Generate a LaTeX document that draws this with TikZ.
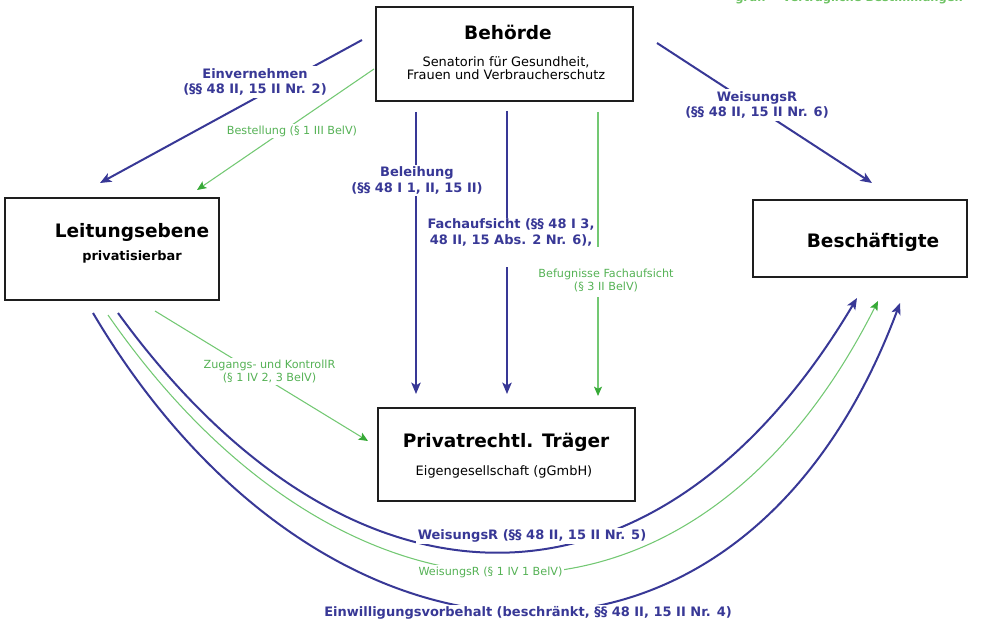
\documentclass[tikz,border=0pt]{standalone}
\usepackage{fontspec}
\setmainfont{DejaVu Sans}
\usetikzlibrary{arrows.meta,calc}
\definecolor{lawblue}{RGB}{56,56,150}
\definecolor{contractgreen}{RGB}{115,200,115}
\definecolor{contractgreentext}{RGB}{85,178,85}
\definecolor{legendgreen}{RGB}{110,195,100}
\definecolor{tipgreen}{RGB}{55,170,55}
\definecolor{frame}{RGB}{30,30,30}

\begin{document}
\begin{tikzpicture}[x=0.75pt,y=-0.75pt,
  box/.style={draw=frame,line width=1.5pt,fill=white,inner sep=0pt},
  titletext/.style={font=\fontsize{13.9pt}{16pt}\selectfont\bfseries,inner sep=0pt},
  subtext/.style={font=\fontsize{9.7pt}{9.75pt}\selectfont,align=center,inner sep=0pt},
  subbold/.style={font=\fontsize{9.7pt}{9.75pt}\selectfont\bfseries,inner sep=0pt},
  bluelbl/.style={font=\fontsize{9.75pt}{11.5pt}\selectfont\bfseries,text=lawblue,align=center,fill=white,inner sep=1.5pt},
  greenlbl/.style={font=\fontsize{8.4pt}{9.75pt}\selectfont,text=contractgreentext,align=center,fill=white,inner sep=1.5pt},
  blueline/.style={draw=lawblue,line width=1.5pt},
  bluearrow/.style={blueline,-{Stealth[length=8.5pt,width=7pt,inset=2pt]}},
  greenline/.style={draw=contractgreen,line width=0.8pt},
  greenarrow/.style={greenline,-{Stealth[length=7pt,width=6pt,inset=1.5pt,color=tipgreen]}},
]
\useasboundingbox (0,0) rectangle (989,624);
\clip (0,0) rectangle (989,624);

% legend line at the top edge
\node[anchor=base,font=\fontsize{8.6pt}{10pt}\selectfont\bfseries,text=legendgreen,inner sep=0pt]
  (legend) at (849,1.5) {grün = vertragliche Bestimmungen};

% boxes
\node[box,minimum width={257*0.75pt},minimum height={94*0.75pt}] (behoerde) at (504.5,54) {};
\node[box,minimum width={214*0.75pt},minimum height={102*0.75pt}] (leitung) at (112,249) {};
\node[box,minimum width={214*0.75pt},minimum height={77*0.75pt}] (besch) at (860,238.5) {};
\node[box,minimum width={257*0.75pt},minimum height={93*0.75pt}] (traeger) at (506.5,454.5) {};

\node[titletext] (behtitle) at (508,32) {Behörde};
\node[subtext] (behsub) at (506,68) {Senatorin für Gesundheit,\\Frauen und Verbraucherschutz};
\node[titletext] (leittitle) at (132,232) {Leitungsebene};
\node[subbold] (leitsub) at (132,257) {privatisierbar};
\node[titletext] (beschtitle) at (873,242) {Beschäftigte};
\node[titletext] (traegertitle) at (506,442) {Privatrechtl. Träger};
\node[subtext] (traegersub) at (504,472) {Eigengesellschaft (gGmbH)};

% end points of the connectors
\coordinate (ein s) at (362,40);   \coordinate (ein e) at (100,183);
\coordinate (bes s) at (374,69);   \coordinate (bes e) at (197,190);
\coordinate (bel s) at (416,112);  \coordinate (bel e) at (416,394);
\coordinate (fa s) at (507,111);   \coordinate (fa a) at (507,218);
\coordinate (fa b) at (507,267);   \coordinate (fa e) at (507,394);
\coordinate (bf s) at (598,112);   \coordinate (bf a) at (598,247);
\coordinate (bf b) at (598,297);   \coordinate (bf e) at (598,396);
\coordinate (w6 s) at (657,43);    \coordinate (w6 e) at (872,183);
\coordinate (zk s) at (155,311);   \coordinate (zk e) at (368,441);
\coordinate (w5 s) at (118,313);   \coordinate (w5 e) at (857,298);
\coordinate (wg s) at (108,315);   \coordinate (wg e) at (878,301);
\coordinate (ew s) at (93,313);    \coordinate (ew e) at (900,303);

% straight connectors
\draw[bluearrow] (ein s) -- (ein e);
\draw[greenarrow] (bes s) -- (bes e);
\draw[bluearrow] (bel s) -- (bel e);
\draw[blueline] (fa s) -- (fa a);
\draw[bluearrow] (fa b) -- (fa e);
\draw[greenline] (bf s) -- (bf a);
\draw[greenarrow] (bf b) -- (bf e);
\draw[bluearrow] (w6 s) -- (w6 e);
\draw[greenarrow] (zk s) -- (zk e);

% curved connectors from the management level to the staff
\draw[bluearrow] (w5 s) .. controls (350,632) and (656,636) .. (w5 e);
\draw[greenarrow] (wg s) .. controls (343,654) and (693,668) .. (wg e);
\draw[bluearrow] (ew s) .. controls (322,700) and (742,726) .. (ew e);

% connector labels
\node[bluelbl] (einlbl) at (255,82) {Einvernehmen\\(§§ 48 II, 15 II Nr. 2)};
\node[greenlbl] (beslbl) at (292,131) {Bestellung (§ 1 III BelV)};
\node[bluelbl] (bellbl) at (417,180.5) {Beleihung\\(§§ 48 I 1, II, 15 II)};
\node[bluelbl,fill=none] (falbl) at (511,232.5) {Fachaufsicht (§§ 48 I 3,\\48 II, 15 Abs. 2 Nr. 6),};
\node[greenlbl,fill=none] (bflbl) at (606,280.5) {Befugnisse Fachaufsicht\\(§ 3 II BelV)};
\node[bluelbl] (w6lbl) at (757,105) {WeisungsR\\(§§ 48 II, 15 II Nr. 6)};
\node[greenlbl] (zklbl) at (269.5,371.5) {Zugangs- und KontrollR\\(§ 1 IV 2, 3 BelV)};
\node[bluelbl] (w5lbl) at (532,536) {WeisungsR (§§ 48 II, 15 II Nr. 5)};
\node[greenlbl] (wglbl) at (490.5,572) {WeisungsR (§ 1 IV 1 BelV)};
\node[bluelbl] (ewlbl) at (528,613) {Einwilligungsvorbehalt (beschränkt, §§ 48 II, 15 II Nr. 4)};
\end{tikzpicture}
\end{document}
